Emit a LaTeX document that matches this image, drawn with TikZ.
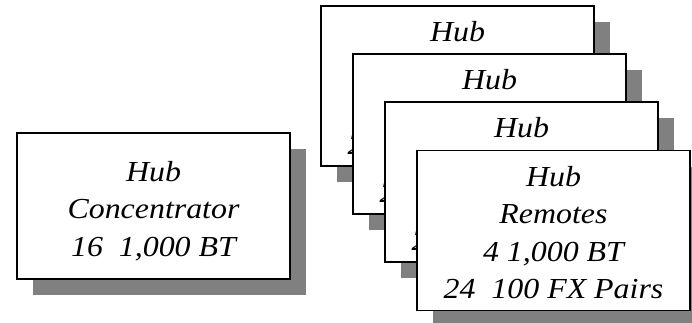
\documentclass[tikz,border=0pt]{standalone}
\usepackage{fontspec}
\setmainfont{Liberation Serif}[ItalicFeatures={FakeStretch=1.1}]
\usetikzlibrary{shadows}
\definecolor{shadowgray}{HTML}{808080}
\tikzset{
  hubbox/.style={draw=black, line width=1.5pt, fill=white,
    minimum width=273pt, inner sep=0pt,
    drop shadow={shadow xshift=16pt, shadow yshift=-16pt,
      fill=shadowgray, opacity=1}},
  tallbox/.style={hubbox, minimum height=160pt},
  widebox/.style={hubbox, minimum height=146pt},
  hubtext/.style={inner sep=0pt, align=center,
    font=\fontsize{29}{37.5}\selectfont\itshape}
}
\newcommand{\remotetext}{Hub\\Remotes\\4 1,000 BT\\24\ \ 100 FX Pairs}
\begin{document}
\begin{tikzpicture}[x=1pt, y=-1pt]
  \useasboundingbox (0,0) rectangle (692,323);
  % concentrator hub
  \node[widebox] (conc) at (153.5,206) {};
  \node[hubtext] (conctext) at ([yshift=-5pt]conc.center)
    {Hub\\Concentrator\\16\ \ 1,000 BT};
  % stack of remote hubs, back to front
  \foreach \i/\x/\y in {1/457.5/86, 2/489.5/134, 3/521.5/182, 4/553.5/230.5}{
    \node[tallbox] (r\i) at (\x,\y) {};
    \node[hubtext] (r\i text) at ([yshift=-2pt]r\i.center) {\remotetext};
  }
\end{tikzpicture}
\end{document}
